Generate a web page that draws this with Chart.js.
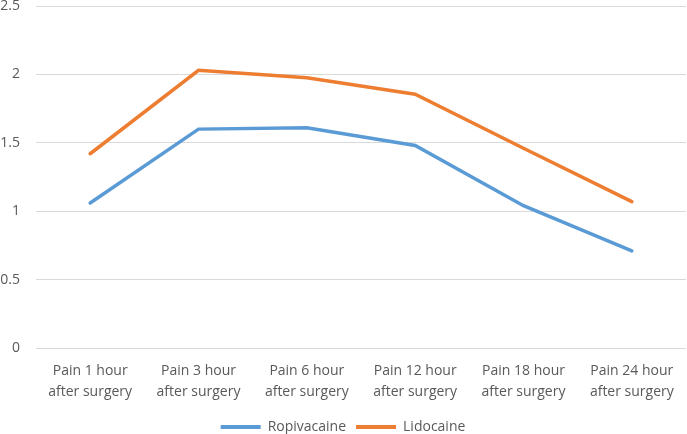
<!DOCTYPE html>
<html><head><meta charset="utf-8">
<script src="https://cdn.jsdelivr.net/npm/chart.js@4"></script>
<style>html,body{margin:0;padding:0;background:#fff;}canvas{display:block;}</style>
</head><body>
<canvas id="c" width="687" height="434"></canvas>
<script>
const categories = [["Pain 1 hour","after surgery"],["Pain 3 hour","after surgery"],["Pain 6 hour","after surgery"],["Pain 12 hour","after surgery"],["Pain 18 hour","after surgery"],["Pain 24 hour","after surgery"]];
const ropivacaine = [1.06, 1.60, 1.61, 1.48, 1.04, 0.71];
const lidocaine = [1.42, 2.03, 1.975, 1.855, 1.46, 1.07];
const yTicks = [0, 0.5, 1, 1.5, 2, 2.5];

const FONT = "'Open Sans', sans-serif";
new Chart(document.getElementById('c'), {
  type: 'line',
  data: {
    labels: categories,
    datasets: [
      {label: 'Ropivacaine', data: ropivacaine, borderColor: '#5B9BD5', backgroundColor: '#5B9BD5', borderWidth: 3.5, pointRadius: 0, tension: 0, borderCapStyle: 'round'},
      {label: 'Lidocaine', data: lidocaine, borderColor: '#ED7D31', backgroundColor: '#ED7D31', borderWidth: 3.5, pointRadius: 0, tension: 0, borderCapStyle: 'round'}
    ]
  },
  options: {
    responsive: false,
    animation: false,
    layout: {padding: {top: 0, right: 1, left: 0, bottom: -10}},
    plugins: {
      tooltip: {enabled: false},
      legend: {
        position: 'bottom',
        labels: {
          font: {family: FONT, size: 14},
          color: '#595959',
          boxWidth: 40, boxHeight: 4, padding: 10,
          generateLabels(chart) {
            return chart.data.datasets.map((d, i) => ({
              text: d.label, fillStyle: d.borderColor, strokeStyle: d.borderColor, lineWidth: 0,
              fontColor: '#595959', datasetIndex: i, hidden: false
            }));
          }
        }
      }
    },
    scales: {
      x: {
        offset: true,
        afterFit(scale) { scale.height -= 6; },
        grid: {display: false, drawTicks: false, offset: true},
        border: {display: false},
        ticks: {font: {family: FONT, size: 14, lineHeight: 1.5}, color: '#595959', padding: 13, maxRotation: 0, autoSkip: false}
      },
      y: {
        min: 0, max: 2.5,
        afterBuildTicks(scale) { scale.ticks = yTicks.map(v => ({value: v})); },
        afterFit(scale) { scale.width = 36; scale.paddingTop = 6; scale.paddingBottom = 0; },
        grid: {color: '#D9D9D9', lineWidth: 1, drawTicks: false},
        border: {display: false},
        ticks: {font: {family: FONT, size: 14}, color: '#595959', padding: 16, callback: v => String(v)}
      }
    }
  }
});
</script>
</body></html>
